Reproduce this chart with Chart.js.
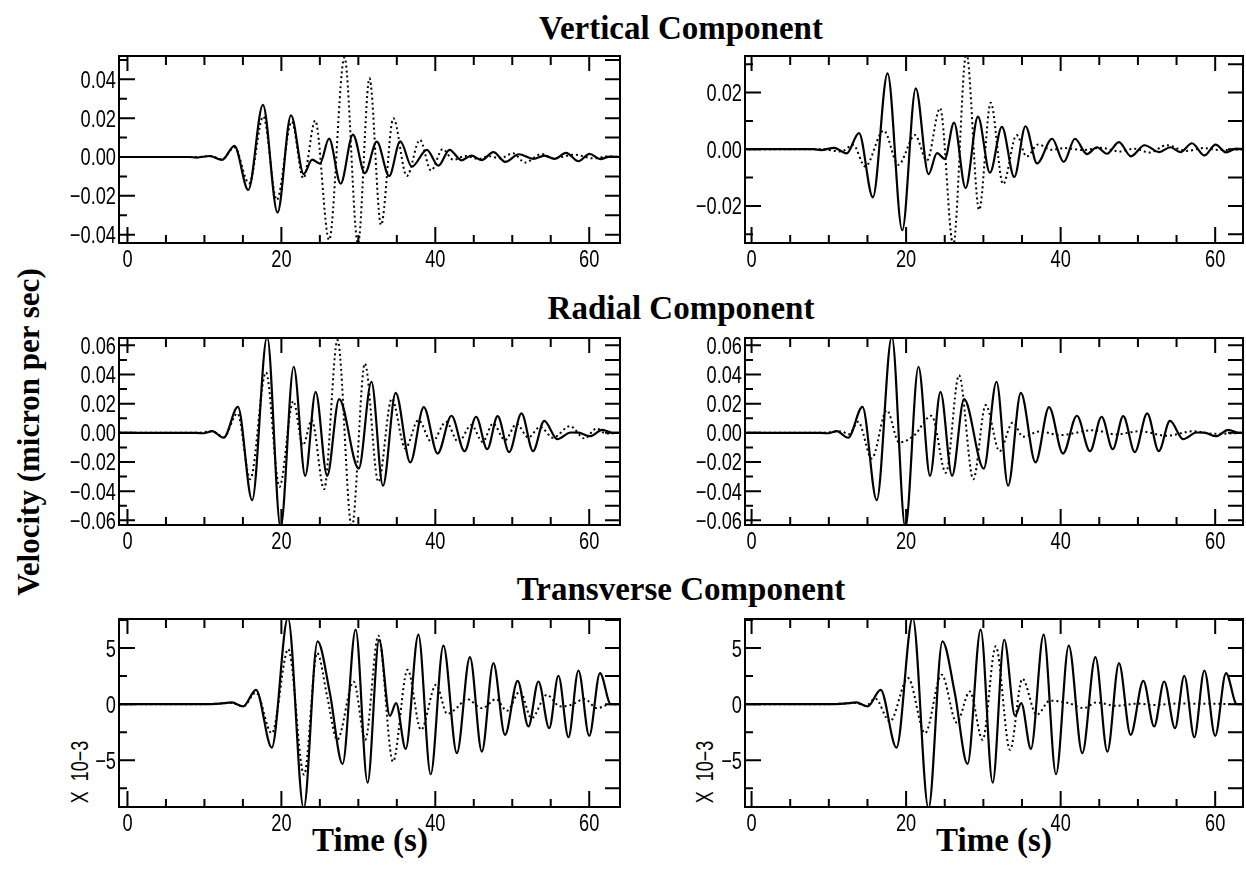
<!DOCTYPE html>
<html><head><meta charset="utf-8">
<script src="https://cdn.jsdelivr.net/npm/chart.js@4.4.1/dist/chart.umd.min.js"></script>
<style>
html,body{margin:0;padding:0;background:#fff}
body{width:1246px;height:884px;position:relative;overflow:hidden}
canvas{position:absolute}
.t{position:absolute;font-family:'Liberation Serif','Times New Roman',serif;font-weight:bold;font-size:33px;line-height:1;color:#000;white-space:nowrap;transform:translate(-50%,-50%)}
.r{transform:translate(-50%,-50%) rotate(-90deg);font-size:31px}
.u{position:absolute;font-family:'Liberation Sans',sans-serif;font-size:23px;line-height:1;color:#000;white-space:nowrap;transform:translate(-50%,-50%) rotate(-90deg) scaleX(0.78)}
</style></head><body>
<div class="t" style="left:681px;top:28px">Vertical Component</div>
<div class="t" style="left:681px;top:308px">Radial Component</div>
<div class="t" style="left:681px;top:589px">Transverse Component</div>
<div class="t r" style="left:28px;top:432px">Velocity (micron per sec)</div>
<div class="t" style="left:370px;top:840px">Time (s)</div>
<div class="t" style="left:994px;top:840px">Time (s)</div>
<div class="u" style="left:80px;top:772px">X&nbsp;&nbsp;10−3</div>
<div class="u" style="left:705px;top:772px">X&nbsp;&nbsp;10−3</div>
<canvas id="c1"></canvas><canvas id="c2"></canvas>
<canvas id="c3"></canvas><canvas id="c4"></canvas>
<canvas id="c5"></canvas><canvas id="c6"></canvas>
<script>
// ---------- data: [time (s), velocity] extrema ----------
const xTickValues = [0, 20, 40, 60];

// Vertical component (micron/s)
const vertObserved = [[-1,0],[8,0],[9.0,-0.0003],[10.7,0.0005],[12.3,-0.0015],[13.9,0.0057],[15.7,-0.017],[17.6,0.0268],[19.5,-0.0286],[21.25,0.0215],[22.9,-0.0088],[24.0,-0.0014],[25.0,-0.0034],[26.2,0.0094],[27.7,-0.0137],[29.3,0.0115],[30.85,-0.0083],[32.4,0.0079],[34.0,-0.0098],[35.45,0.0081],[36.95,-0.005],[38.9,0.0037],[40.4,-0.0045],[41.85,0.0037],[43.4,-0.0017],[44.7,0.0007],[46.0,-0.0016],[47.55,0.0025],[49.1,-0.0025],[50.85,0.0014],[52.75,-0.001],[54.2,0.0007],[55.5,-0.001],[57.0,0.0021],[58.6,-0.0022],[60.05,0.0016],[61.4,-0.0011],[62.7,0.0002],[64,0]];
const vertModelA = [[-1,0],[9,0],[10.8,0.0004],[12.3,-0.0012],[13.9,0.005],[15.8,-0.0136],[17.65,0.0208],[19.4,-0.0221],[21.35,0.0182],[22.85,-0.011],[24.4,0.0187],[26.2,-0.0427],[28.2,0.0513],[29.95,-0.0448],[31.45,0.0405],[32.95,-0.035],[34.55,0.0199],[36.3,-0.0098],[38.0,0.0088],[39.45,-0.007],[40.95,0.004],[42.35,-0.0015],[43.9,0.0005],[45.6,-0.001],[47.0,0.0004],[48.4,-0.0007],[50.1,0.0019],[51.65,-0.0029],[53.8,0.0015],[55.3,-0.0007],[58.1,0.0012],[60.5,-0.0007],[62.5,0.0003],[64,0]];
const vertModelB = [[-1,0],[9,0],[11.6,-0.0008],[13.15,0.0015],[14.7,-0.0061],[17.1,0.0066],[19.0,-0.0055],[21.15,0.005],[22.7,-0.004],[24.4,0.0145],[26.1,-0.0338],[27.8,0.034],[29.45,-0.0214],[30.95,0.0164],[32.55,-0.0123],[34.3,0.005],[35.6,-0.0026],[37.1,0.0017],[38.8,-0.0002],[40.5,0.0004],[43.0,-0.0003],[45.1,0.0005],[47.7,-0.0008],[49.5,0.0002],[51.5,-0.0012],[53.7,0.0014],[56.3,-0.0006],[58.5,0.0004],[60.5,-0.0003],[64,0]];

// Radial component (micron/s)
const radObserved = [[-1,0],[9,0],[9.9,-0.0003],[11.0,0.0011],[12.5,-0.0034],[14.35,0.0178],[16.2,-0.0462],[18.15,0.066],[19.9,-0.065],[21.6,0.0453],[23.1,-0.0295],[24.45,0.0281],[25.95,-0.0295],[27.5,0.0231],[30.05,-0.0245],[31.7,0.035],[33.2,-0.0363],[34.85,0.0274],[36.75,-0.0203],[38.5,0.0176],[40.3,-0.0142],[42.1,0.0117],[43.8,-0.0126],[45.3,0.011],[46.75,-0.0112],[48.1,0.0114],[49.6,-0.0132],[51.2,0.0133],[52.7,-0.0126],[54.15,0.0082],[55.85,-0.0043],[57.6,0.0002],[58.6,0.0001],[60.1,-0.0023],[61.7,0.002],[63,0],[64,0]];
const radModelA = [[-1,0],[9,0],[11.0,0.001],[12.5,-0.003],[14.3,0.0133],[15.95,-0.0318],[18.0,0.0414],[19.75,-0.037],[21.55,0.0217],[22.8,-0.0085],[23.95,0.0087],[25.55,-0.0386],[27.3,0.0636],[29.15,-0.065],[30.85,0.0475],[32.6,-0.0336],[34.35,0.0235],[36.1,-0.0107],[37.8,0.0087],[39.55,-0.0066],[41.4,0.0075],[43.0,-0.0062],[44.7,0.0053],[46.15,-0.0062],[47.5,0.0064],[49.05,-0.005],[50.55,0.006],[52.1,-0.0032],[53.6,0.0041],[55.3,-0.0034],[57.5,0.0046],[59.4,-0.0039],[60.95,0.003],[62.2,-0.0005],[64,0]];
const radModelB = [[-1,0],[9,0],[11.6,0.001],[12.6,-0.001],[13.8,0.0075],[15.55,-0.0176],[17.5,0.0155],[19.1,-0.0066],[21.0,-0.002],[23.3,0.0117],[25.15,-0.0274],[26.85,0.0395],[28.7,-0.0318],[30.3,0.019],[32.1,-0.0126],[33.8,0.0071],[35.15,-0.0027],[37.3,0.001],[39.9,-0.0016],[44.2,0.0018],[47.2,-0.0011],[50.2,0.0011],[53.7,-0.002],[57.2,0.0011],[59.7,-0.0007],[64,0]];

// Transverse component (x 10^-3 micron/s)
const transObserved = [[-1,0],[10,0],[12,0.05],[13.55,0.15],[15.05,-0.2],[16.7,1.28],[18.75,-3.87],[20.85,7.7],[22.9,-9.3],[24.7,5.6],[26.3,1.0],[27.95,-5.33],[29.65,6.64],[31.2,-7.0],[32.7,5.74],[34.1,-1.04],[34.9,0.09],[36.15,-3.99],[37.8,6.19],[39.4,-6.25],[41.05,5.21],[42.8,-4.37],[44.5,4.2],[46.05,-4.23],[47.55,3.66],[49.05,-2.74],[50.7,2.08],[52.1,-1.99],[53.4,2.02],[54.8,-2.14],[56.0,2.53],[57.3,-2.95],[58.6,3.0],[60.0,-2.83],[61.4,2.77],[62.8,0],[64,0]];
const transModelA = [[-1,0],[10,0],[13.55,0.1],[15.05,-0.2],[16.7,1.04],[18.75,-2.6],[20.9,4.9],[22.95,-6.3],[24.65,4.55],[26.0,0.5],[27.25,-3.18],[29.4,2.0],[30.9,-3.18],[32.6,6.1],[34.5,-5.12],[36.4,3.07],[38.15,-2.29],[40.1,1.73],[41.55,-0.86],[43.0,-0.2],[44.0,0.48],[46.1,-0.36],[47.9,0.45],[49.3,-0.6],[51.0,1.13],[52.5,-1.25],[54.5,0.83],[56.2,-0.2],[57.5,-0.1],[59.4,0.45],[61.0,-0.36],[62.8,0],[64,0]];
const transModelB = [[-1,0],[10,0],[13.5,0.1],[14.8,-0.15],[16.0,0.5],[17.9,-1.55],[20.25,2.32],[22.45,-2.59],[24.6,2.62],[26.55,-1.64],[28.25,1.13],[29.9,-3.18],[31.6,5.15],[33.45,-4.08],[35.05,2.26],[36.9,-0.95],[38.6,0.3],[41.0,0.1],[43.0,-0.36],[44.6,0.15],[47.2,-0.15],[50.0,0.05],[52.0,-0.08],[55.0,0.05],[64,0]];

// y tick labels
const vertTicksLeft = [-0.04, -0.02, 0, 0.02, 0.04];
const vertTicksRight = [-0.02, 0, 0.02];
const radTicks = [-0.06, -0.04, -0.02, 0, 0.02, 0.04, 0.06];
const transTicks = [-5, 0, 5];

// ---------- drawing ----------
const TICK_FONT = "24px 'Liberation Sans', Arimo, sans-serif";
const SQUEEZE = 0.76;
const YW = 100, PT = 12, PR = 6, XH = 34;

const frameTicks = {
  id: 'frameTicks',
  afterDatasetsDraw(chart, args, o) {
    const {ctx, chartArea: a} = chart;
    const xs = chart.scales.x, ys = chart.scales.y;
    const isMajor = (v, m) => Math.abs(v / m - Math.round(v / m)) < 1e-6;
    ctx.save();
    ctx.strokeStyle = '#000'; ctx.lineWidth = 2; ctx.lineCap = 'butt';
    ctx.strokeRect(a.left, a.top, a.right - a.left, a.bottom - a.top);
    ctx.beginPath();
    for (let i = Math.ceil(xs.min / o.xMinor); i * o.xMinor <= xs.max + 1e-9; i++) {
      const v = i * o.xMinor, p = xs.getPixelForValue(v), mj = isMajor(v, o.xMajor);
      ctx.moveTo(p, a.bottom); ctx.lineTo(p, a.bottom - (mj ? 16 : 8));
      ctx.moveTo(p, a.top); ctx.lineTo(p, a.top + (mj ? 15 : 9));
    }
    for (let i = Math.ceil(ys.min / o.yMinor - 1e-6); i * o.yMinor <= ys.max + 1e-9; i++) {
      const v = i * o.yMinor, p = ys.getPixelForValue(v), mj = isMajor(v, o.yMajor);
      ctx.moveTo(a.left, p); ctx.lineTo(a.left + (mj ? 16 : 8), p);
      ctx.moveTo(a.right, p); ctx.lineTo(a.right - 15, p);
    }
    ctx.stroke();
    // tick labels (narrow face), placed from the library's own ticks
    ctx.fillStyle = '#000'; ctx.font = TICK_FONT; ctx.textBaseline = 'alphabetic';
    xs.ticks.forEach(tk => {
      const p = xs.getPixelForValue(tk.value);
      ctx.save(); ctx.translate(p, a.bottom + 24); ctx.scale(SQUEEZE, 1);
      ctx.textAlign = 'center'; ctx.fillText(o.xFmt(tk.value), 0, 0); ctx.restore();
    });
    ys.ticks.forEach(tk => {
      const p = ys.getPixelForValue(tk.value);
      ctx.save(); ctx.translate(a.left - 3, p + 8.5); ctx.scale(SQUEEZE, 1);
      ctx.textAlign = 'right'; ctx.fillText(o.yFmt(tk.value), 0, 0); ctx.restore();
    });
    ctx.restore();
  }
};

function fmt(v, dec) {
  const s = Math.abs(v).toFixed(dec);
  return (v < -1e-12 ? '\u2212' : '') + s;
}

function panel(id, rect, xRange, yRange, yTicks, dec, yMinor, yMajor, observed, model) {
  const cv = document.getElementById(id);
  const [l, t, r, b] = rect;
  cv.width = (r - l) + YW + PR; cv.height = (b - t) + PT + XH;
  cv.style.left = (l - YW) + 'px'; cv.style.top = (t - PT) + 'px';
  const pts = arr => arr.map(([x, y]) => ({x, y}));
  new Chart(cv, {
    type: 'line',
    data: {datasets: [
      {data: pts(model), borderColor: '#000', borderWidth: 2, borderDash: [2, 3], pointRadius: 0, cubicInterpolationMode: 'monotone', fill: false},
      {data: pts(observed), borderColor: '#000', borderWidth: 2.2, pointRadius: 0, cubicInterpolationMode: 'monotone', fill: false}
    ]},
    options: {
      responsive: false, animation: false, events: [],
      layout: {padding: {top: PT, right: PR, left: 0, bottom: 0}},
      plugins: {legend: {display: false}, tooltip: {enabled: false},
        frameTicks: {xMinor: 5, xMajor: 20, yMinor: yMinor, yMajor: yMajor,
          xFmt: v => String(v), yFmt: v => fmt(v, dec)}},
      scales: {
        x: {type: 'linear', min: xRange[0], max: xRange[1],
          grid: {display: false}, border: {display: false},
          afterBuildTicks: s => { s.ticks = xTickValues.map(v => ({value: v})); },
          afterFit: s => { s.height = XH; },
          ticks: {display: false}},
        y: {type: 'linear', min: yRange[0], max: yRange[1],
          grid: {display: false}, border: {display: false},
          afterBuildTicks: s => { s.ticks = yTicks.map(v => ({value: v})); },
          afterFit: s => { s.width = YW; },
          ticks: {display: false}}
      }
    },
    plugins: [frameTicks]
  });
}

const XL = [-1.1, 64.0], XR = [-0.85, 63.6];
panel('c1', [119, 56, 620, 243], XL, [-0.0443, 0.052], vertTicksLeft, 2, 0.01, 0.02, vertObserved, vertModelA);
panel('c2', [745, 56, 1243, 243], XR, [-0.0331, 0.0329], vertTicksRight, 2, 0.01, 0.02, vertObserved, vertModelB);
panel('c3', [119, 338, 620, 525], XL, [-0.0632, 0.065], radTicks, 2, 0.01, 0.02, radObserved, radModelA);
panel('c4', [745, 338, 1243, 525], XR, [-0.0632, 0.065], radTicks, 2, 0.01, 0.02, radObserved, radModelB);
panel('c5', [119, 619, 620, 807], XL, [-9.17, 7.59], transTicks, 0, 2.5, 5, transObserved, transModelA);
panel('c6', [745, 619, 1243, 807], XR, [-9.17, 7.59], transTicks, 0, 2.5, 5, transObserved, transModelB);
</script>
</body></html>
